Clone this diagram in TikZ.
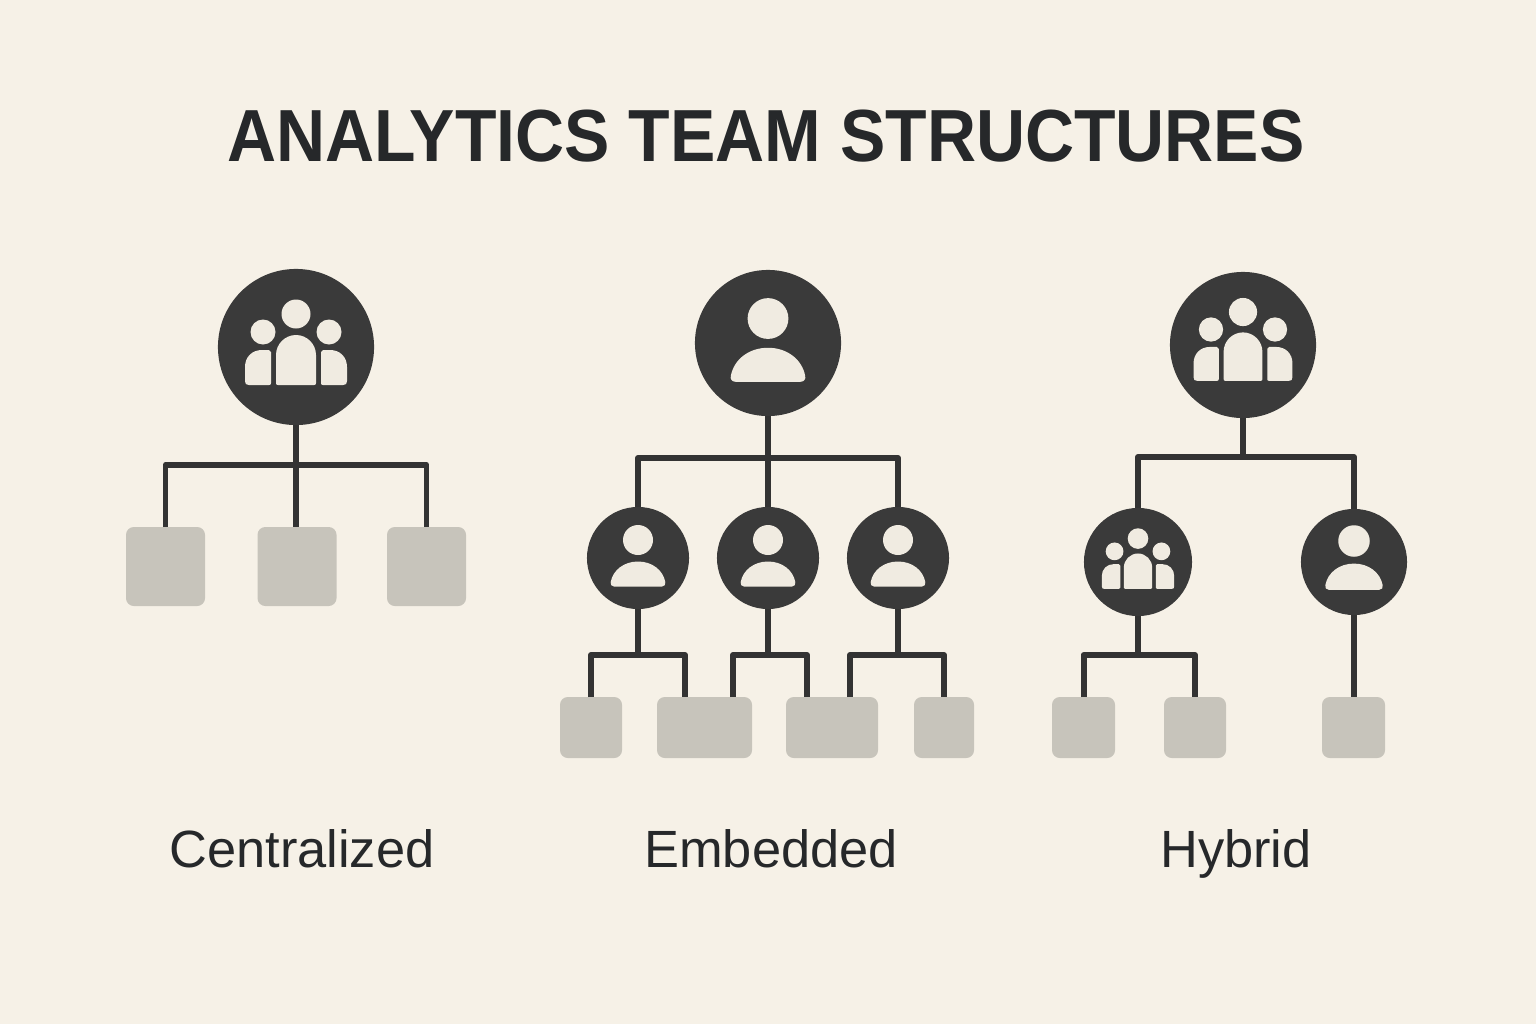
\documentclass[tikz,border=0pt]{standalone}
\usepackage{graphicx}
\usepackage{fontspec}
\setmainfont{Liberation Sans}
\definecolor{paper}{HTML}{F6F1E7}
\definecolor{ink}{HTML}{3A3A3A}
\definecolor{wirecol}{HTML}{333333}
\definecolor{slab}{HTML}{C7C4BB}
\definecolor{cutout}{HTML}{F0EBE1}
\definecolor{lettering}{HTML}{26282A}
\tikzset{
  hub/.style={circle,fill=ink,inner sep=0pt,outer sep=0pt,minimum size=#1*0.02cm},
  slabbox/.style={rectangle,fill=slab,rounded corners=2.2pt,inner sep=0pt,outer sep=0pt,minimum width=#1*0.01cm},
  wire/.style={draw=wirecol,line width=1.7pt,line join=round},
  caption/.style={anchor=base,text=lettering,font=\fontsize{14.9}{18}\selectfont},
  personicon/.pic={
    \fill[cutout] (0,-18) circle (15);
    \fill[cutout] (-24,28.5) .. controls (-26.5,28.5) and (-28,26.5) .. (-27.3,24)
      .. controls (-25,12) and (-14,3.5) .. (0,3.5)
      .. controls (14,3.5) and (25,12) .. (27.3,24)
      .. controls (28,26.5) and (26.5,28.5) .. (24,28.5) -- cycle;
  },
  groupicon/.pic={
    \fill[cutout] (0,-33) circle (14.5);
    \fill[cutout] (-33,-15) circle (12.5);
    \fill[cutout] (33,-15) circle (12.5);
    \fill[cutout] (-18,38) .. controls (-19.5,38) and (-20,37.5) .. (-20,36) -- (-20,8)
      .. controls (-20,-3) and (-11,-12) .. (0,-12)
      .. controls (11,-12) and (20,-3) .. (20,8) -- (20,36)
      .. controls (20,37.5) and (19.5,38) .. (18,38) -- cycle;
    \fill[cutout] (-47,38) .. controls (-50,38) and (-51,37) .. (-51,34) -- (-51,20)
      .. controls (-51,10) and (-44,3) .. (-34,3) -- (-27,3)
      .. controls (-26,3) and (-25,4) .. (-25,5) -- (-25,36)
      .. controls (-25,37.5) and (-25.5,38) .. (-27,38) -- cycle;
    \fill[cutout] (47,38) .. controls (50,38) and (51,37) .. (51,34) -- (51,20)
      .. controls (51,10) and (44,3) .. (34,3) -- (27,3)
      .. controls (26,3) and (25,4) .. (25,5) -- (25,36)
      .. controls (25,37.5) and (25.5,38) .. (27,38) -- cycle;
  }
}
\begin{document}
\begin{tikzpicture}[x=0.01cm,y=-0.01cm]
  \useasboundingbox (0,0) rectangle (1536,1024);
  \fill[paper] (0,0) rectangle (1536,1024);
  \node[anchor=base,text=lettering] (title) at (766,161) {\scalebox{0.92}[1]{\fontsize{21}{26}\selectfont\bfseries ANALYTICS TEAM STRUCTURES}};

  % centralized
  \coordinate (cbar) at (296,465);
  \node[hub=78] (chub) at (296,347) {};
  \node[slabbox=79,minimum height=79*0.01cm] (cboxa) at (165.5,566.5) {};
  \node[slabbox=79,minimum height=79*0.01cm] (cboxb) at (297,566.5) {};
  \node[slabbox=79,minimum height=79*0.01cm] (cboxc) at (426.5,566.5) {};
  \begin{scope}[wire]
    \draw (chub) -- (cbar);
    \draw (cbar) -- (cbar |- cboxb.north);
    \draw (cboxa.north) |- (cbar) -| (cboxc.north);
  \end{scope}
  \pic at (chub) {groupicon};

  % embedded
  \coordinate (ebar) at (768,458);
  \coordinate (eaj) at (638,655);
  \coordinate (ebj) at (768,655);
  \coordinate (ecj) at (898,655);
  \coordinate (edropa) at (685,697);
  \coordinate (edropb) at (733,697);
  \coordinate (edropc) at (807,697);
  \coordinate (edropd) at (850,697);
  \node[hub=73] (ehub) at (768,343) {};
  \node[hub=51] (eleft) at (638,558) {};
  \node[hub=51] (emid) at (768,558) {};
  \node[hub=51] (eright) at (898,558) {};
  \node[slabbox=62,minimum height=61*0.01cm] (eboxa) at (591,727.5) {};
  \node[slabbox=95,minimum height=61*0.01cm] (eboxb) at (704.5,727.5) {};
  \node[slabbox=92,minimum height=61*0.01cm] (eboxc) at (832,727.5) {};
  \node[slabbox=60,minimum height=61*0.01cm] (eboxd) at (944,727.5) {};
  \begin{scope}[wire]
    \draw (ehub) -- (ebar);
    \draw (ebar) -- (emid);
    \draw (eleft) |- (ebar) -| (eright);
    \draw (eleft) -- (eaj);
    \draw (emid) -- (ebj);
    \draw (eright) -- (ecj);
    \draw (eboxa.north) |- (eaj) -| (edropa);
    \draw (edropb) |- (ebj) -| (edropc);
    \draw (edropd) |- (ecj) -| (eboxd.north);
  \end{scope}
  \pic[scale=1.36] at (ehub) {personicon};
  \pic at (eleft) {personicon};
  \pic at (emid) {personicon};
  \pic at (eright) {personicon};

  % hybrid
  \coordinate (hbar) at (1243,457);
  \coordinate (haj) at (1138,655);
  \node[hub=73] (hhub) at (1243,345) {};
  \node[hub=54] (hleft) at (1138,562) {};
  \node[hub=53] (hright) at (1354,562) {};
  \node[slabbox=63,minimum height=61*0.01cm] (hboxa) at (1083.5,727.5) {};
  \node[slabbox=62,minimum height=61*0.01cm] (hboxb) at (1195,727.5) {};
  \node[slabbox=63,minimum height=61*0.01cm] (hboxc) at (1353.5,727.5) {};
  \begin{scope}[wire]
    \draw (hhub) -- (hbar);
    \draw (hleft) |- (hbar) -| (hright);
    \draw (hleft) -- (haj);
    \draw (hboxa.north) |- (haj) -| (hboxb.north);
    \draw (hright) -- (hboxc.north -| hright);
  \end{scope}
  \pic[scale=0.97,yshift=0.01cm] at (hhub) {groupicon};
  \pic[scale=0.71] at (hleft) {groupicon};
  \pic[scale=1.05,yshift=0.02cm] at (hright) {personicon};

  \node[caption] (clabel) at (302,867) {Centralized};
  \node[caption] (elabel) at (771,867) {Embedded};
  \node[caption] (hlabel) at (1236,867) {Hybrid};
\end{tikzpicture}
\end{document}
